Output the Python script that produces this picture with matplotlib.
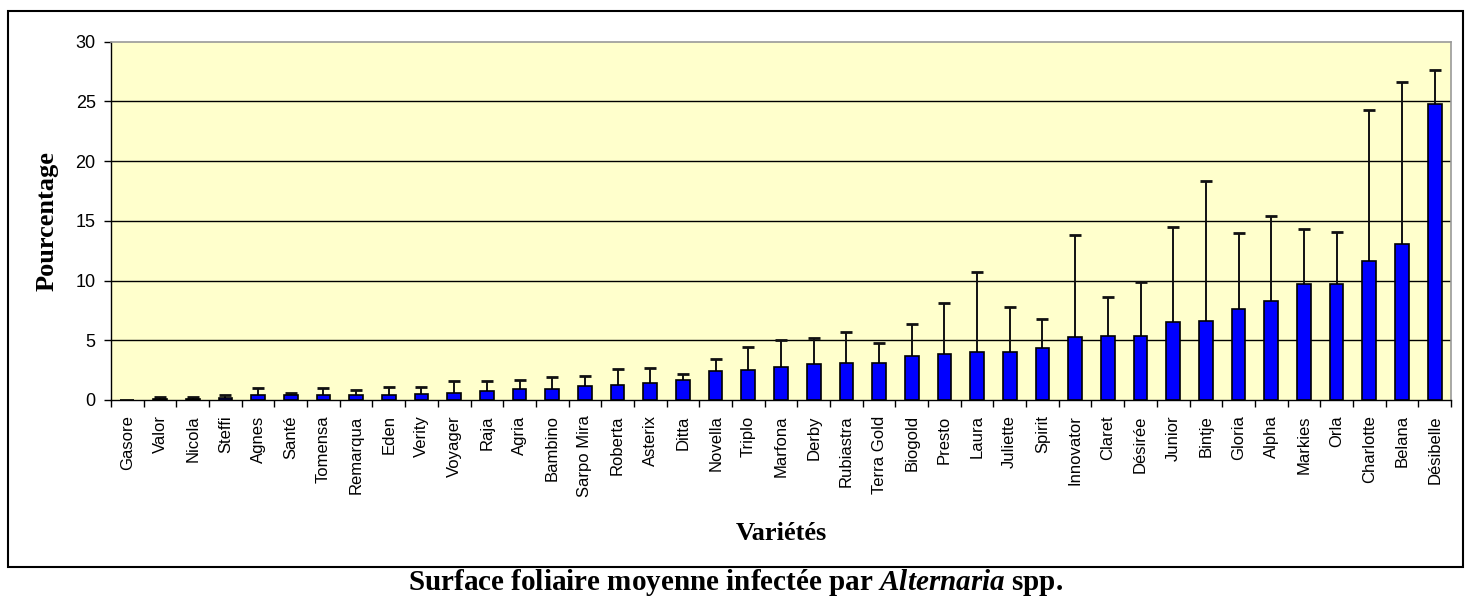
import matplotlib
matplotlib.use('Agg')
import matplotlib.pyplot as plt
from matplotlib.patches import Rectangle
import numpy as np

plt.rcParams['mathtext.fontset'] = 'custom'
plt.rcParams['mathtext.it'] = 'Liberation Serif:italic:bold'
plt.rcParams['mathtext.rm'] = 'Liberation Serif:bold'
plt.rcParams['mathtext.bf'] = 'Liberation Serif:bold'

varietes = ['Gasore', 'Valor', 'Nicola', 'Steffi', 'Agnes', 'Santé', 'Tomensa',
            'Remarqua', 'Eden', 'Verity', 'Voyager', 'Raja', 'Agria', 'Bambino',
            'Sarpo Mira', 'Roberta', 'Asterix', 'Ditta', 'Novella', 'Triplo',
            'Marfona', 'Derby', 'Rubiastra', 'Terra Gold', 'Biogold', 'Presto',
            'Laura', 'Juliette', 'Spirit', 'Innovator', 'Claret', 'Désirée',
            'Junior', 'Bintje', 'Gloria', 'Alpha', 'Markies', 'Orla',
            'Charlotte', 'Belana', 'Désibelle']
moyenne = [0.0, 0.1, 0.1, 0.15, 0.38, 0.38, 0.38, 0.38, 0.38, 0.5, 0.6, 0.72,
           0.95, 0.95, 1.17, 1.28, 1.42, 1.68, 2.4, 2.51, 2.74, 2.99, 3.1, 3.1,
           3.71, 3.84, 3.98, 3.98, 4.34, 5.27, 5.38, 5.38, 6.5, 6.6, 7.6, 8.32,
           9.75, 9.75, 11.65, 13.1, 24.75]
haut_err = [0.0, 0.25, 0.25, 0.38, 1.0, 0.6, 1.0, 0.83, 1.1, 1.1, 1.55, 1.55,
            1.66, 1.9, 2.0, 2.63, 2.7, 2.15, 3.46, 4.41, 5.03, 5.17, 5.73, 4.78,
            6.33, 8.14, 10.7, 7.8, 6.75, 13.84, 8.63, 9.86, 14.45, 18.3, 13.95,
            15.4, 14.34, 14.1, 24.3, 26.65, 27.6]

moyenne = np.array(moyenne)
haut = np.array(haut_err)
x = np.arange(len(varietes))

serif = 'Liberation Serif'
sans = 'Liberation Sans'

fig = plt.figure(figsize=(14.71, 5.99), dpi=100)
fig.patches.append(Rectangle((8/1471, 1-567/599), 1455/1471, 556/599,
                             transform=fig.transFigure, fill=False,
                             edgecolor='black', linewidth=1.5))

ax = fig.add_axes([111/1471, 1-400/599, 1340/1471, 358.3/599])
ax.set_facecolor('#FFFFCC')

for g in [5, 10, 15, 20, 25]:
    ax.axhline(g, color='black', linewidth=1.0, zorder=1)

ax.bar(x, moyenne, width=0.42, color='#0000FF', edgecolor='black',
       linewidth=1.2, zorder=3)
# upper error bars only
has_err = haut > moyenne
ax.vlines(x[has_err], moyenne[has_err], haut[has_err], color='#111111',
          linewidth=1.4, zorder=2)
ax.plot(x[has_err], haut[has_err], linestyle='none', marker='_',
        markersize=9, markeredgewidth=2, color='#111111', zorder=2)

ax.set_xlim(-0.5, len(varietes) - 0.5)
ax.set_ylim(0, 30)
ax.set_yticks(range(0, 31, 5))
ax.set_xticks(np.arange(len(varietes) + 1) - 0.5)
ax.set_xticklabels([])
ax.set_xticks(x, minor=True)
ax.set_xticklabels(varietes, minor=True, rotation=90, fontfamily=sans,
                   fontsize=12, va='top', ha='center')
ax.tick_params(axis='x', which='minor', length=0, pad=11)
ax.tick_params(axis='x', which='major', length=5, width=1, direction='out')
ax.tick_params(axis='y', length=5, width=1, pad=6, labelsize=13)
for lab in ax.get_yticklabels():
    lab.set_fontfamily(sans)

for s in ['top', 'right']:
    ax.spines[s].set_color('#999999')
    ax.spines[s].set_linewidth(1.2)
for s in ['left', 'bottom']:
    ax.spines[s].set_color('black')
    ax.spines[s].set_linewidth(1.0)

fig.text(47/1471, 1-221/599, 'Pourcentage', rotation=90, ha='center',
         va='center', fontfamily=serif, fontweight='bold', fontsize=19)
fig.text(781/1471, 1-533/599, 'Variétés', ha='center', va='center',
         fontfamily=serif, fontweight='bold', fontsize=19)
fig.text(0.5, 1-583/599,
         r'Surface foliaire moyenne infectée par $\mathit{Alternaria}$ spp.',
         ha='center', va='center', fontfamily=serif, fontweight='bold',
         fontsize=21)

fig.savefig('out.png', dpi=100)
